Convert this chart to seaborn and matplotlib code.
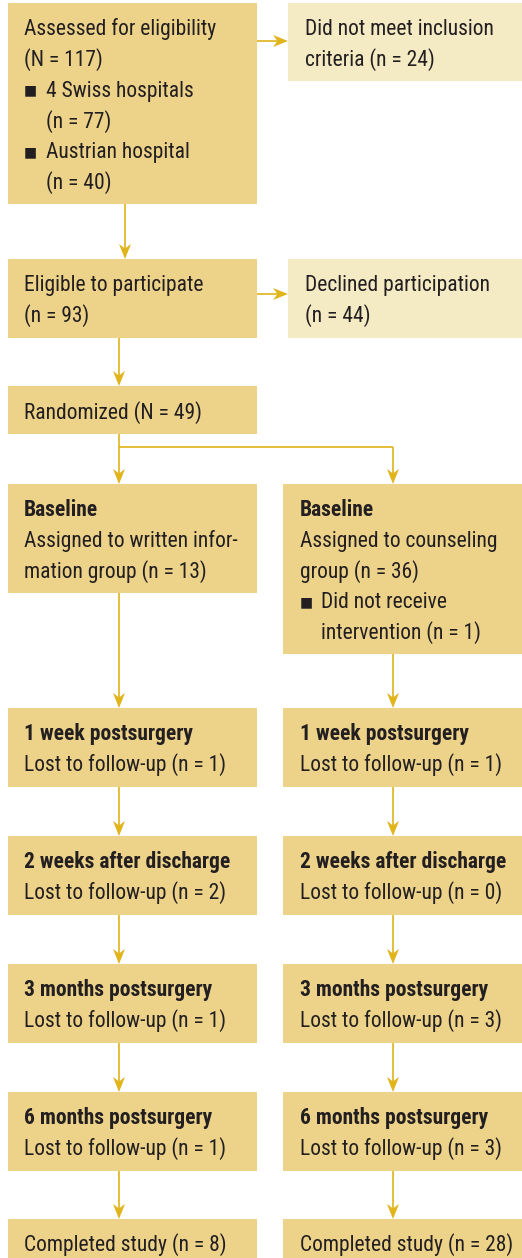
import matplotlib
matplotlib.use("Agg")
import matplotlib.pyplot as plt
import seaborn as sns
from matplotlib.patches import Rectangle, Polygon
from matplotlib import font_manager

sns.set_theme(style="white")
_names = {f.name for f in font_manager.fontManager.ttflist}
FAM = [f for f in ["Liberation Sans Narrow", "Roboto Condensed", "Liberation Sans"] if f in _names] + ["DejaVu Sans"]
plt.rcParams['font.family'] = FAM

# ---------------- data ----------------
assessed_n = 117
swiss_n = 77
austrian_n = 40
not_meet_n = 24
eligible_n = 93
declined_n = 44
randomized_n = 49
written_n = 13
counsel_n = 36
no_intervention_n = 1
stages = ["1 week postsurgery", "2 weeks after discharge",
          "3 months postsurgery", "6 months postsurgery"]
lost_written = [1, 2, 1, 1]
lost_counsel = [1, 0, 3, 3]
completed_written = 8
completed_counsel = 28

# ---------------- style ----------------
DARK = "#EDD38A"
LIGHT = "#F4EAC4"
ARROW = "#E0B41A"
TXT = "#231F20"
FS = 15.5
LH = 30.8
BO = 7.5  # baseline offset from visual line centre

fig = plt.figure(figsize=(5.22, 12.58), dpi=100)
ax = fig.add_axes([0, 0, 1, 1])
ax.set_xlim(0, 522)
ax.set_ylim(1258, 0)
ax.axis("off")

def box(x0, y0, x1, y1, color=DARK):
    ax.add_patch(Rectangle((x0, y0), x1 - x0, y1 - y0, facecolor=color,
                           edgecolor="none", zorder=1))

def txt(x, y, s, bold=False):
    ax.text(x, y + BO, s, fontsize=FS, color=TXT, va="baseline", ha="left",
            fontweight="bold" if bold else "normal", zorder=3)

def bullet(x, y):
    ax.text(x, y + 1.5, "\u25A0", fontsize=10, color=TXT, va="center",
            ha="left", family=["DejaVu Sans"], zorder=3)

HL, HW, HN = 15, 6, 4.5

def arrow_v(x, y0, y1):
    ax.plot([x, x], [y0, y1 - HL + HN], color=ARROW, lw=1.2, zorder=2,
            solid_capstyle="butt")
    ax.add_patch(Polygon([(x, y1), (x - HW, y1 - HL), (x, y1 - HL + HN),
                          (x + HW, y1 - HL)], closed=True, facecolor=ARROW,
                         edgecolor="none", zorder=2))

def arrow_h(y, x0, x1):
    ax.plot([x0, x1 - HL + HN], [y, y], color=ARROW, lw=1.2, zorder=2,
            solid_capstyle="butt")
    ax.add_patch(Polygon([(x1, y), (x1 - HL, y - HW), (x1 - HL + HN, y),
                          (x1 - HL, y + HW)], closed=True, facecolor=ARROW,
                         edgecolor="none", zorder=2))

def line(xs, ys):
    ax.plot(xs, ys, color=ARROW, lw=1.2, zorder=2, solid_capstyle="butt")

LX0, LX1 = 8, 257
RX0, RX1 = 283, 522
EX0, EX1 = 288, 522
LCX, RCX = 119, 393

# Assessed
box(LX0, 3, LX1, 204)
y = 27.5
txt(24, y, "Assessed for eligibility")
txt(24, y + LH, f"(N = {assessed_n})")
bullet(24, y + 2 * LH); txt(46, y + 2 * LH, "4 Swiss hospitals")
txt(46, y + 3 * LH, f"(n = {swiss_n})")
bullet(24, y + 4 * LH); txt(46, y + 4 * LH, "Austrian hospital")
txt(46, y + 5 * LH, f"(n = {austrian_n})")

box(EX0, 3, EX1, 81, LIGHT)
txt(305, 27.5, "Did not meet inclusion")
txt(305, 27.5 + LH, f"criteria (n = {not_meet_n})")
arrow_h(41, LX1, EX0)
arrow_v(125, 204, 259)

# Eligible
box(LX0, 259, LX1, 338)
txt(24, 283.5, "Eligible to participate")
txt(24, 283.5 + LH, f"(n = {eligible_n})")
box(EX0, 259, EX1, 338, LIGHT)
txt(305, 283.5, "Declined participation")
txt(305, 283.5 + LH, f"(n = {declined_n})")
arrow_h(294, LX1, EX0)
arrow_v(LCX, 338, 386)

# Randomized
box(LX0, 386, LX1, 434)
txt(24, 411.5, f"Randomized (N = {randomized_n})")
line([LCX, LCX], [434, 447])
line([LCX, RCX], [447, 447])
arrow_v(LCX, 447, 484)
arrow_v(RCX, 447, 484)

# Baseline
box(LX0, 484, LX1, 593)
txt(24, 508.5, "Baseline", bold=True)
txt(24, 508.5 + LH, "Assigned to written infor-")
txt(24, 508.5 + 2 * LH, f"mation group (n = {written_n})")
box(RX0, 484, RX1, 654)
txt(300, 508.5, "Baseline", bold=True)
txt(300, 508.5 + LH, "Assigned to counseling")
txt(300, 508.5 + 2 * LH, f"group (n = {counsel_n})")
bullet(300, 508.5 + 3 * LH); txt(321, 508.5 + 3 * LH, "Did not receive")
txt(321, 508.5 + 4 * LH, f"intervention (n = {no_intervention_n})")

# Follow-up
tops = [708, 836, 964, 1092]
prev_l, prev_r = 593, 654
for top, st, lw_, lc_ in zip(tops, stages, lost_written, lost_counsel):
    arrow_v(LCX, prev_l, top)
    arrow_v(RCX, prev_r, top)
    box(LX0, top, LX1, top + 79)
    box(RX0, top, RX1, top + 79)
    txt(24, top + 24.5, st, bold=True)
    txt(24, top + 24.5 + LH, f"Lost to follow-up (n = {lw_})")
    txt(300, top + 24.5, st, bold=True)
    txt(300, top + 24.5 + LH, f"Lost to follow-up (n = {lc_})")
    prev_l = prev_r = top + 79

ctop = 1219
arrow_v(LCX, prev_l, ctop)
arrow_v(RCX, prev_r, ctop)
box(LX0, ctop, LX1, 1270)
box(RX0, ctop, RX1, 1270)
txt(24, ctop + 24.5, f"Completed study (n = {completed_written})")
txt(300, ctop + 24.5, f"Completed study (n = {completed_counsel})")

fig.savefig("out.png", dpi=100)
